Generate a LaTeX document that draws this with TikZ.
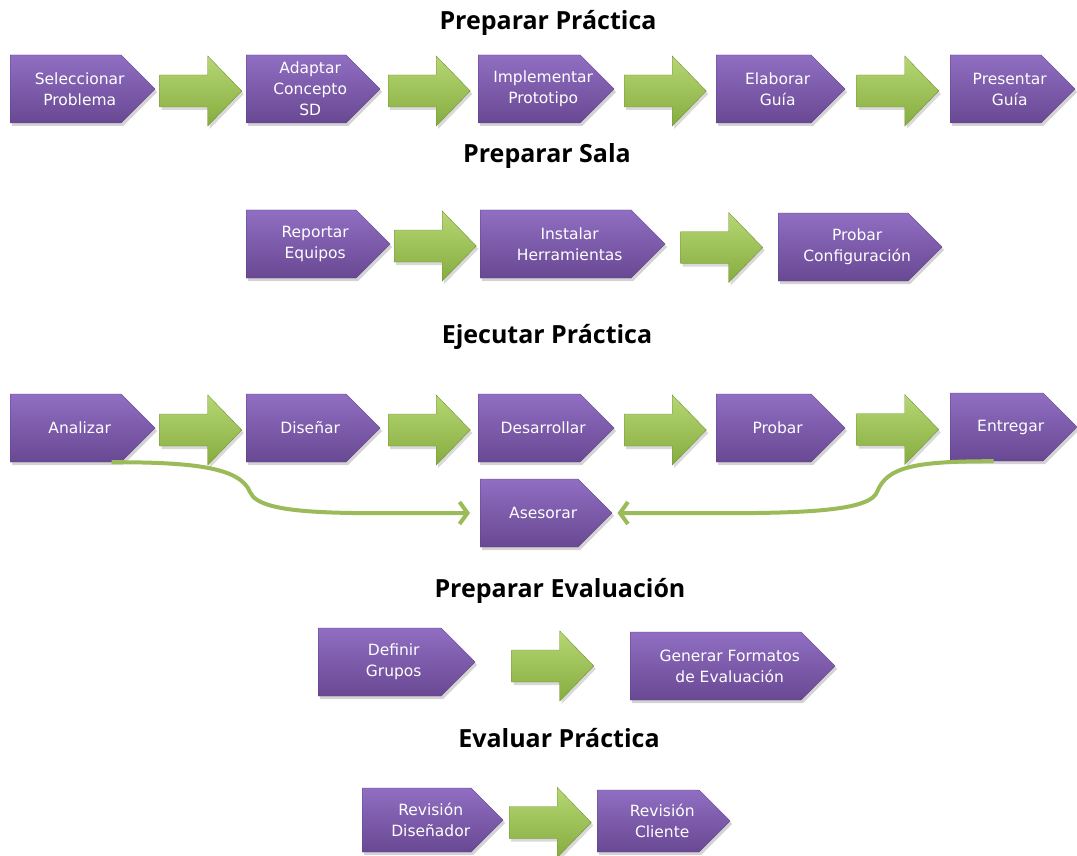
\documentclass[tikz,border=0pt]{standalone}
\usepackage{fontspec}
\setmainfont{DejaVu Sans}
\newfontfamily\titlefont{Open Sans}
\usetikzlibrary{shapes.symbols, arrows.meta, calc, shadows}

\definecolor{boxtop}{HTML}{906EC2}
\definecolor{boxbot}{HTML}{694893}
\definecolor{boxline}{HTML}{5C3F85}
\definecolor{arrtop}{HTML}{B6D774}
\definecolor{arrbot}{HTML}{86AC3F}
\definecolor{curvegreen}{HTML}{9BBB59}

% fat green arrow centred between two boxes
\newcommand{\fatarrow}[2]{%
  \path (#1.east) -- coordinate (mid) (#2.west);
  \path[bigarrow] ([yshift=-2pt]mid) ++(-41,-16) -- ++(48,0) -- ++(0,-19) -- ++(34,35)
    -- ++(-34,35) -- ++(0,-19) -- ++(-48,0) -- cycle;
}

\begin{document}
\begin{tikzpicture}[x=1pt, y=-1pt,
  boxtext/.style={text=white, align=center, xshift=14pt, inner sep=0pt,
    font=\fontsize{15.5}{21}\selectfont},
  procbox/.style={signal, signal to=east, signal pointer angle=90, anchor=west,
    minimum height=68pt, minimum width=135pt, inner sep=2pt,
    top color=boxtop, bottom color=boxbot, draw=boxline,
    label={[boxtext]center:#1},
    drop shadow={opacity=0.35, shadow xshift=2pt, shadow yshift=-3pt}},
  bigarrow/.style={top color=arrtop, bottom color=arrbot, draw=arrbot!85!black,
    drop shadow={opacity=0.3, shadow xshift=2pt, shadow yshift=-3pt}},
  title/.style={font=\titlefont\bfseries\fontsize{25}{29}\selectfont},
  feedback/.style={curvegreen, line width=4pt, -{Straight Barb[length=8pt, width=22pt]}}]

\useasboundingbox (0,0) rectangle (1077,856);

% Preparar Practica
\node(t1)[title] at (548,23) {Preparar Práctica};
\node(sel)[procbox={Seleccionar\\Problema}, minimum width=145pt] at (10,89) {};
\node(ada)[procbox={Adaptar\\Concepto\\SD}, minimum width=134pt] at (246,89) {};
\node(imp)[procbox={Implementar\\Prototipo}, minimum width=136pt] at (478,89) {};
\node(ela)[procbox={Elaborar\\Guía}, minimum width=129pt] at (716,89) {};
\node(pre)[procbox={Presentar\\Guía}, minimum width=125pt] at (950,89) {};
\fatarrow{sel}{ada}
\fatarrow{ada}{imp}
\fatarrow{imp}{ela}
\fatarrow{ela}{pre}

% Preparar Sala
\node(t2)[title] at (547,156) {Preparar Sala};
\node(rep)[procbox={Reportar\\Equipos}, minimum width=144pt] at (246,244) {};
\node(ins)[procbox={Instalar\\Herramientas}, minimum width=185pt] at (480,244) {};
\node(prc)[procbox={Probar\\Configuración}, minimum width=164pt] at (778,247) {};
\fatarrow{rep}{ins}
\fatarrow{ins}{prc}

% Ejecutar Practica
\node(t3)[title] at (547,337) {Ejecutar Práctica};
\node(ana)[procbox={Analizar}, minimum width=145pt] at (10,428) {};
\node(dis)[procbox={Diseñar}, minimum width=134pt] at (246,428) {};
\node(des)[procbox={Desarrollar}, minimum width=136pt] at (478,428) {};
\node(pro)[procbox={Probar}, minimum width=129pt] at (716,428) {};
\node(ent)[procbox={Entregar}, minimum width=127pt] at (950,427) {};
\node(ase)[procbox={Asesorar}, minimum width=132pt] at (480,513) {};
\fatarrow{ana}{dis}
\fatarrow{dis}{des}
\fatarrow{des}{pro}
\fatarrow{pro}{ent}

\draw[feedback] ([xshift=46pt]ana.south) .. controls +(80,0) and +(-10,-25) .. (250,492)
  .. controls +(10,25) and +(-120,0) .. ([xshift=-10pt]ase.west);
\draw[feedback] ([xshift=-3pt]ent.south) .. controls +(-80,0) and +(10,-25) .. (877,492)
  .. controls +(-10,25) and +(140,0) .. ([xshift=5pt]ase.east);

% Preparar Evaluacion
\node(t4)[title] at (560,591) {Preparar Evaluación};
\node(def)[procbox={Definir\\Grupos}, minimum width=157pt] at (318,662) {};
\node(gen)[procbox={Generar Formatos\\de Evaluación}, minimum width=205pt] at (630,666) {};
\fatarrow{def}{gen}

% Evaluar Practica
\node(t5)[title] at (559,738) {Evaluar Práctica};
\node(rdi)[procbox={Revisión\\Diseñador}, minimum width=141pt, minimum height=64pt] at (362,820) {};
\node(rcl)[procbox={Revisión\\Cliente}, minimum width=133pt, minimum height=62pt] at (597,821) {};
\fatarrow{rdi}{rcl}
\end{tikzpicture}
\end{document}
